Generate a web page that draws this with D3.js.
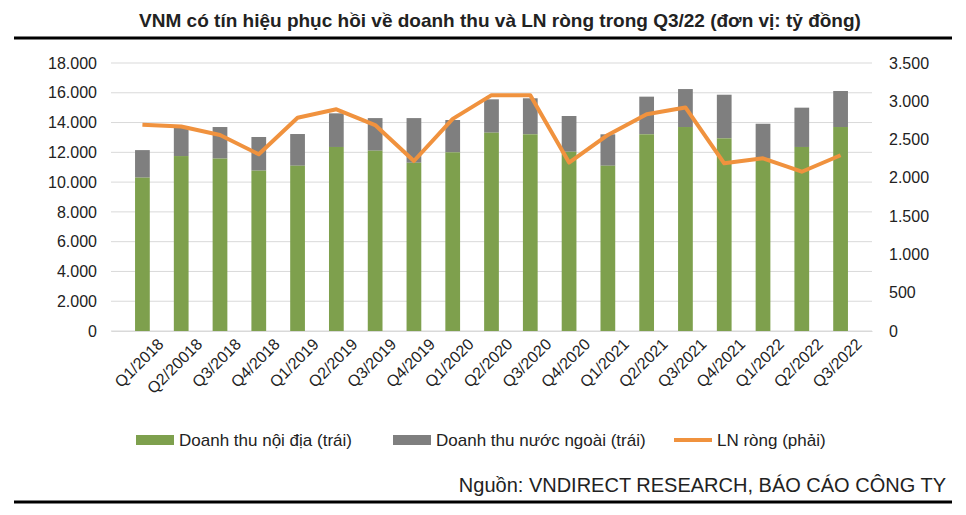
<!DOCTYPE html>
<html><head><meta charset="utf-8">
<script src="https://cdn.jsdelivr.net/npm/d3@7"></script>
<style>body{margin:0;background:#fff;font-family:"Liberation Sans",Arial,sans-serif}</style>
</head><body><div id="chart"></div>
<script>
const quarters = ["Q1/2018","Q2/20018","Q3/2018","Q4/2018","Q1/2019","Q2/2019","Q3/2019","Q4/2019","Q1/2020","Q2/2020","Q3/2020","Q4/2020","Q1/2021","Q2/2021","Q3/2021","Q4/2021","Q1/2022","Q2/2022","Q3/2022"];
const domestic = [10300,11750,11580,10770,11100,12360,12110,11300,12000,13320,13210,12040,11100,13210,13700,12940,11600,12360,13700];
const total = [12150,13700,13700,13030,13230,14620,14300,14300,14170,15560,15630,14440,13210,15740,16250,15870,13920,15000,16120];
const netProfit = [2695,2670,2560,2308,2786,2895,2690,2220,2770,3080,3080,2200,2560,2830,2920,2190,2255,2080,2295];
const leftTicks = d3.range(0, 18001, 2000);
const rightTicks = d3.range(0, 3501, 500);

const width = 966, height = 515;
const fmt = d => d3.format(",")(d).replace(/,/g, ".");

const svg = d3.select("#chart").append("svg").attr("width", width).attr("height", height);

svg.append("text").attr("x", 500).attr("y", 27).attr("text-anchor", "middle")
  .attr("font-size", 19).attr("font-weight", "bold").attr("fill", "#222")
  .text("VNM có tín hiệu phục hồi về doanh thu và LN ròng trong Q3/22 (đơn vị: tỷ đồng)");
svg.append("line").attr("x1", 14).attr("x2", 952).attr("y1", 38).attr("y2", 38).attr("stroke", "#000").attr("stroke-width", 3);
svg.append("line").attr("x1", 14).attr("x2", 952).attr("y1", 502).attr("y2", 502).attr("stroke", "#000").attr("stroke-width", 3);

const x = d3.scaleBand().domain(quarters).range([111, 872]).padding(0.62);
const yL = d3.scaleLinear().domain([0, 18000]).range([331, 63]);
const yR = d3.scaleLinear().domain([0, 3500]).range([331, 63]);

svg.append("g").selectAll("line").data(leftTicks).join("line")
  .attr("x1", 111).attr("x2", 872).attr("y1", d => yL(d)).attr("y2", d => yL(d))
  .attr("stroke", "#d9d9d9").attr("stroke-width", 1);

const gl = svg.append("g").attr("transform", "translate(111,0)")
  .call(d3.axisLeft(yL).tickValues(leftTicks).tickFormat(fmt).tickSize(0).tickPadding(14));
const gr = svg.append("g").attr("transform", "translate(872,0)")
  .call(d3.axisRight(yR).tickValues(rightTicks).tickFormat(fmt).tickSize(0).tickPadding(17));
[gl, gr].forEach(g => {
  g.select(".domain").remove();
  g.selectAll("text").attr("font-size", 16).attr("fill", "#222").attr("font-family", "Liberation Sans, Arial");
});

svg.append("g").selectAll("rect").data(quarters).join("rect")
  .attr("x", d => x(d)).attr("width", x.bandwidth())
  .attr("y", (d, i) => yL(total[i])).attr("height", (d, i) => yL(domestic[i]) - yL(total[i]))
  .attr("fill", "#7f7f7f");
svg.append("g").selectAll("rect").data(quarters).join("rect")
  .attr("x", d => x(d)).attr("width", x.bandwidth())
  .attr("y", (d, i) => yL(domestic[i])).attr("height", (d, i) => yL(0) - yL(domestic[i]))
  .attr("fill", "#7ea04d");

svg.append("path").datum(netProfit)
  .attr("d", d3.line().x((d, i) => x(quarters[i]) + x.bandwidth() / 2).y(d => yR(d)))
  .attr("fill", "none").attr("stroke", "#f0923e").attr("stroke-width", 4).attr("stroke-linejoin", "round");

const gx = svg.append("g").attr("transform", "translate(0,331)")
  .call(d3.axisBottom(x).tickSize(0).tickPadding(12));
gx.select(".domain").attr("stroke", "#d9d9d9");
gx.selectAll("text").attr("font-size", 16).attr("fill", "#222").attr("font-family", "Liberation Sans, Arial")
  .attr("text-anchor", "end").attr("transform", "translate(8,0) rotate(-45)").attr("dy", "0.5em");

const legend = [
  { label: "Doanh thu nội địa (trái)", color: "#7ea04d", x: 136, type: "rect" },
  { label: "Doanh thu nước ngoài (trái)", color: "#7f7f7f", x: 393, type: "rect" },
  { label: "LN ròng (phải)", color: "#f0923e", x: 674, type: "line" }
];
const lg = svg.append("g").selectAll("g").data(legend).join("g")
  .attr("transform", d => `translate(${d.x},440)`);
lg.filter(d => d.type === "rect").append("rect").attr("x", 0).attr("y", -5).attr("width", 38).attr("height", 10).attr("fill", d => d.color);
lg.filter(d => d.type === "line").append("line").attr("x1", 0).attr("x2", 38).attr("stroke", d => d.color).attr("stroke-width", 4);
lg.append("text").attr("x", 43).attr("y", 6).attr("font-size", 17).attr("fill", "#222").text(d => d.label);

svg.append("text").attr("x", 946).attr("y", 492).attr("text-anchor", "end")
  .attr("font-size", 20).attr("fill", "#222").text("Nguồn: VNDIRECT RESEARCH, BÁO CÁO CÔNG TY");
</script></body></html>
